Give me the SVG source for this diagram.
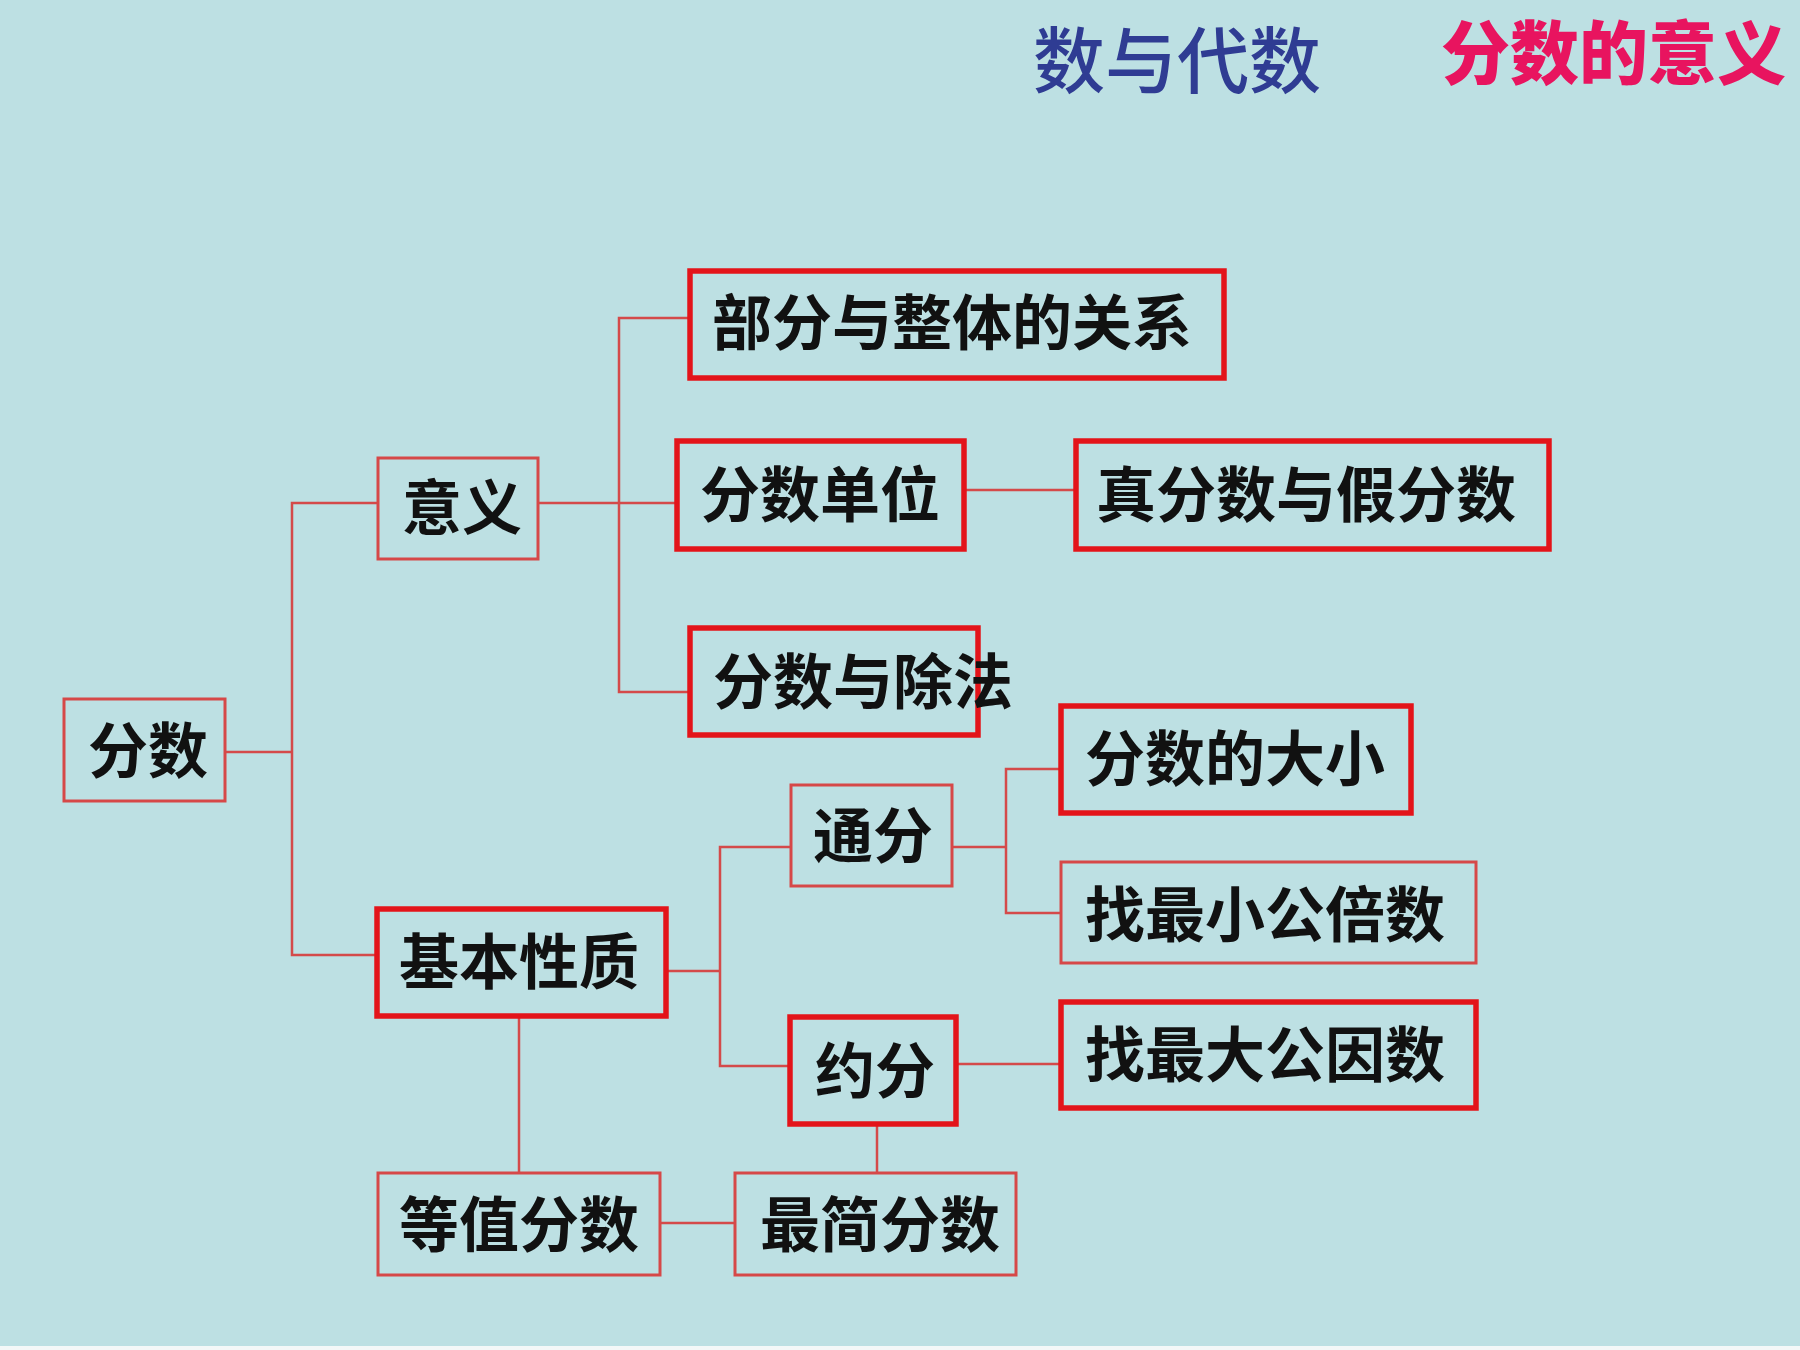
<svg xmlns="http://www.w3.org/2000/svg" width="1800" height="1350" viewBox="0 0 1800 1350">
<style>
.bg{fill:#bde0e3}
.thin{fill:none;stroke:#d64848;stroke-width:3}
.thick{fill:none;stroke:#e3141a;stroke-width:5.5}
.lbl{font-family:"Noto Sans CJK SC","Noto Sans CJK TC",sans-serif;font-size:60px;font-weight:700;fill:#111;dominant-baseline:central}
.conn line, .conn polyline{fill:none;stroke:#d44a4a;stroke-width:2.5}
</style>
<rect class="bg" x="0" y="0" width="1800" height="1350"/>
<rect x="0" y="1346" width="1800" height="4" fill="#f4f8f8"/>
<g id="title">
<text x="1033" y="55" style="font-family:'Noto Sans CJK SC',sans-serif;font-size:72px;font-weight:500;fill:#2f3c93;dominant-baseline:central">数与代数</text>
<text x="1441" y="49" style="font-family:'Noto Sans CJK SC',sans-serif;font-size:69px;font-weight:900;fill:#e8145f;dominant-baseline:central">分数的意义</text>
</g>
<g class="conn" id="connectors">
<polyline points="225,752 292,752"/>
<polyline points="378,503 292,503 292,955 377,955"/>
<line x1="538" y1="503" x2="677" y2="503"/>
<polyline points="690,318 619,318 619,692 690,692"/>
<line x1="964" y1="490" x2="1076" y2="490"/>
<line x1="666" y1="971" x2="720" y2="971"/>
<polyline points="791,847 720,847 720,1066 790,1066"/>
<line x1="952" y1="847" x2="1006" y2="847"/>
<polyline points="1061,769 1006,769 1006,913 1061,913"/>
<line x1="956" y1="1064" x2="1061" y2="1064"/>
<line x1="519" y1="1016" x2="519" y2="1173"/>
<line x1="877" y1="1124" x2="877" y2="1173"/>
<line x1="660" y1="1223" x2="735" y2="1223"/>
</g>
<g id="n-fenshu"><rect class="thin" x="64" y="699" width="161" height="102"/><text class="lbl" x="88" y="746">分数</text></g>
<g id="n-yiyi"><rect class="thin" x="378" y="458" width="160" height="101"/><text class="lbl" x="402" y="503">意义</text></g>
<g id="n-jiben"><rect class="thick" x="377" y="909" width="289" height="107"/><text class="lbl" x="399" y="957">基本性质</text></g>
<g id="n-bufen"><rect class="thick" x="690" y="271" width="534" height="107"/><text class="lbl" x="712" y="318">部分与整体的关系</text></g>
<g id="n-danwei"><rect class="thick" x="677" y="441" width="287" height="108"/><text class="lbl" x="700" y="490">分数单位</text></g>
<g id="n-zhenjia"><rect class="thick" x="1076" y="441" width="473" height="108"/><text class="lbl" x="1096" y="490">真分数与假分数</text></g>
<g id="n-chufa"><rect class="thick" x="690" y="628" width="288" height="107"/><text class="lbl" x="713" y="677">分数与除法</text></g>
<g id="n-tongfen"><rect class="thin" x="791" y="785" width="161" height="101"/><text class="lbl" x="813" y="831">通分</text></g>
<g id="n-yuefen"><rect class="thick" x="790" y="1017" width="166" height="107"/><text class="lbl" x="815" y="1066">约分</text></g>
<g id="n-daxiao"><rect class="thick" x="1061" y="706" width="350" height="107"/><text class="lbl" x="1085" y="754">分数的大小</text></g>
<g id="n-beishu"><rect class="thin" x="1061" y="862" width="415" height="101"/><text class="lbl" x="1085" y="910">找最小公倍数</text></g>
<g id="n-yinshu"><rect class="thick" x="1061" y="1002" width="415" height="106"/><text class="lbl" x="1085" y="1050">找最大公因数</text></g>
<g id="n-dengzhi"><rect class="thin" x="378" y="1173" width="282" height="102"/><text class="lbl" x="399" y="1220">等值分数</text></g>
<g id="n-zuijian"><rect class="thin" x="735" y="1173" width="281" height="102"/><text class="lbl" x="760" y="1220">最简分数</text></g>
</svg>
